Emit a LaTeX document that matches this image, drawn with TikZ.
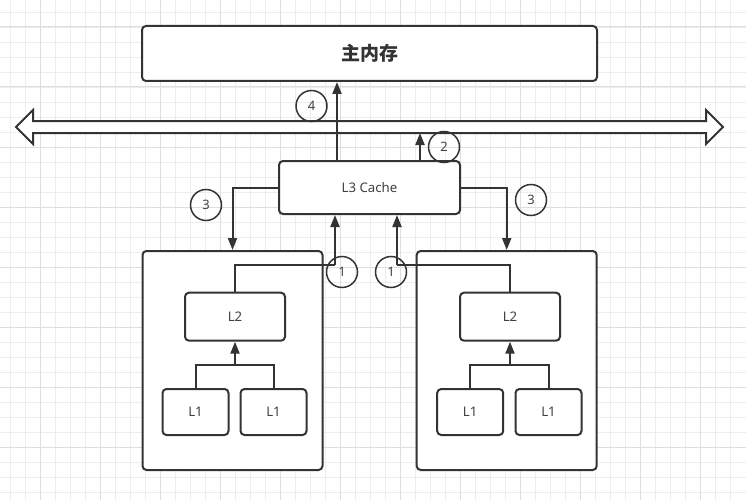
\documentclass[tikz,border=0pt]{standalone}
\usepackage{fontspec}
\setmainfont{Noto Sans}
\newfontfamily\cjk{Noto Sans CJK SC}
\usetikzlibrary{arrows.meta}
\definecolor{ink}{HTML}{333333}
\definecolor{txt}{HTML}{404040}
\definecolor{gridminor}{HTML}{EDEDED}
\definecolor{gridmajor}{HTML}{DEDEDE}
\tikzset{
  box/.style={draw=ink, line width=2pt, rounded corners=4pt, fill=white, inner sep=0pt, text=txt, font=\fontsize{13.2}{15}\selectfont},
  num/.style={draw=ink, line width=1.5pt, circle, minimum size=31pt, inner sep=0pt, text=txt, font=\fontsize{13}{15}\selectfont},
  link/.style={draw=ink, line width=2pt},
  arr/.style={link, -{Triangle[length=12pt,width=9pt]}},
}
\begin{document}
\begin{tikzpicture}[x=1pt,y=-1pt]
\useasboundingbox (0,0) rectangle (746,500);
% grid
\foreach \gx in {10,25,...,740} \draw[gridminor, line width=0.8pt] (\gx,0) -- (\gx,500);
\foreach \gy in {12,27,...,500} \draw[gridminor, line width=0.8pt] (0,\gy) -- (746,\gy);
\foreach \gx in {40,100,...,740} \draw[gridmajor, line width=1pt] (\gx,0) -- (\gx,500);
\foreach \gy in {27,87,...,500} \draw[gridmajor, line width=1pt] (0,\gy) -- (746,\gy);

% boxes
\node[box, minimum width=455pt, minimum height=55pt, font=\cjk\fontsize{19}{22}\selectfont\bfseries, text=ink] (mem) at (369.5,53.5) {主内存};
\draw[ink, line width=2pt, fill=white, line join=miter]
  (16,127) -- (33,110) -- (33,121) -- (706,121) -- (706,110) -- (723,127)
  -- (706,144) -- (706,133) -- (33,133) -- (33,144) -- cycle;
\coordinate (busl) at (0,133);
\node[box, minimum width=181pt, minimum height=53pt] (l3) at (369.5,187.5) {L3 Cache};

\node[box, minimum width=180pt, minimum height=219pt] (cpuA) at (232.5,360.5) {};
\node[box, minimum width=180pt, minimum height=219pt] (cpuB) at (506.7,360.5) {};

\node[box, minimum width=100pt, minimum height=48pt] (l2a) at (235,316.7) {L2};
\node[box, minimum width=100pt, minimum height=48pt] (l2b) at (510,316.7) {L2};
\node[box, minimum width=66pt, minimum height=46pt] (l1a1) at (195.5,412) {L1};
\node[box, minimum width=66pt, minimum height=46pt] (l1a2) at (273.5,412) {L1};
\node[box, minimum width=66pt, minimum height=46pt] (l1b1) at (470.2,412) {L1};
\node[box, minimum width=66pt, minimum height=46pt] (l1b2) at (548.5,412) {L1};

% junction coordinates
\coordinate (a4) at (337,0);
\coordinate (a2) at (420,0);
\coordinate (j1a) at (335,265);
\coordinate (j1b) at (397,265);
\coordinate (ja) at (235,365);
\coordinate (jb) at (510,365);

% connectors
\draw[arr] (l3.north -| a4) -- (mem.south -| a4);
\draw[arr] (l3.north -| a2) -- (a2 |- busl);
\draw[arr] (l3.west) -| (cpuA.north);
\draw[arr] (l3.east) -| (cpuB.north);
\draw[link] (l2a.north) |- (j1a);
\draw[arr] (j1a) -- (l3.south -| j1a);
\draw[link] (l2b.north) |- (j1b);
\draw[arr] (j1b) -- (l3.south -| j1b);
\draw[link] (l1a1.north) |- (ja) -| (l1a2.north);
\draw[arr] (ja) -- (l2a.south);
\draw[link] (l1b1.north) |- (jb) -| (l1b2.north);
\draw[arr] (jb) -- (l2b.south);

% numbered circles
\node[num] (c4) at (311.5,106) {4};
\node[num] (c2) at (444,147) {2};
\node[num] (c3a) at (206,205) {3};
\node[num] (c3b) at (531,200) {3};
\node[num] (c1a) at (342,272) {1};
\node[num] (c1b) at (391,272) {1};
\end{tikzpicture}
\end{document}
